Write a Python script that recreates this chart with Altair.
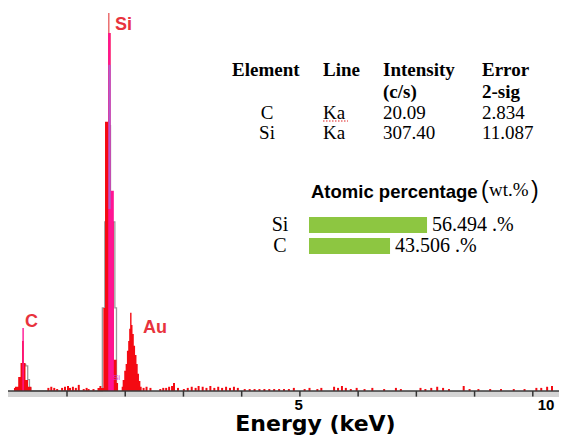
import altair as alt
import pandas as pd

# ---------------- data ----------------
red_e = [0.089, 0.106, 0.162, 0.202, 0.229, 0.258, 0.287, 0.331, 0.388,
         1.524, 1.557, 1.590, 1.624, 1.653, 1.708, 1.747, 1.804, 1.852, 1.877,
         1.939, 1.956, 1.983, 2.007, 2.029, 2.051, 2.068, 2.084, 2.108, 2.125,
         2.147, 2.169, 2.193, 2.214, 2.236, 2.260, 2.282]
red_c = [8, 11, 37, 74, 132, 74, 29, 11, 0,
         8, 13, 8, 219, 710, 944, 446, 82, 21, 0,
         11, 29, 53, 71, 106, 132, 164, 206, 174, 150,
         119, 95, 71, 45, 26, 11, 0]
mag_e = [0.234, 0.258, 1.708, 1.747, 1.804]
mag_c = [166, 0, 944, 528, 0]
gray_e = [0.258, 0.290, 0.325, 0.355, 0.380, 1.607, 1.649, 1.675, 1.747, 1.822, 1.850]
gray_c = [70, 66, 30, 8, 0, 219, 446, 700, 446, 219, 0]
purple_e0 = [1.712]
purple_e1 = [1.750]
purple_lo = [480]
purple_hi = [860]
top_e = [1.718]
top_lo = [944]
top_hi = [997]
noise_e = [0.680, 0.730, 0.781, 0.831, 0.916, 0.966, 1.017, 1.051, 1.101, 1.152, 1.202,
           1.287, 1.337, 1.371, 1.455,
           2.315, 2.366, 2.433, 2.602, 2.653, 2.703, 2.754, 2.804, 2.838, 2.906, 3.007,
           3.074, 3.142, 3.209, 3.260, 3.330, 3.395, 3.462, 3.530, 3.597, 3.664, 3.732,
           3.799, 3.867, 3.934, 4.052, 4.137, 4.221, 4.305, 4.390, 4.474, 4.558, 4.643,
           4.727, 4.811, 4.896, 5.081, 5.165, 5.300, 5.368, 5.587, 5.655, 5.722, 5.789,
           5.874, 5.975, 6.110, 6.244, 6.447, 6.649, 6.734, 7.071, 7.155, 7.256, 7.358,
           7.459, 7.560, 7.813, 7.914, 8.066, 8.268, 8.454, 8.673, 8.858, 9.061, 9.145,
           9.246, 9.330]
noise_c = [8, 11, 8, 5, 8, 11, 13, 8, 11, 8, 16,
           5, 8, 5, 5,
           8, 11, 8, 5, 8, 8, 11, 13, 21, 8, 5,
           8, 11, 8, 13, 11, 8, 13, 8, 11, 8, 11,
           8, 11, 8, 5, 5, 5, 5, 5, 5, 5, 5,
           5, 5, 8, 5, 8, 5, 8, 11, 8, 13, 8,
           5, 8, 5, 8, 5, 8, 5, 8, 5, 8, 11,
           8, 5, 13, 5, 5, 5, 5, 5, 5, 8, 8,
           11, 13]
tick_e = [1, 2, 3, 4, 5, 6, 7, 8, 9]
tick_label_pos = [4.97, 9.22]
tick_label_text = ["5", "10"]
energy_domain = [0.0725, 9.364]
count_domain = [-16, 1010]
band_lo, band_hi = -16, 0
tick_lo = -15

tab_el = ["C", "Si"]
tab_line = ["Ka", "Ka"]
tab_int = ["20.09", "307.40"]
tab_err = ["2.834", "11.087"]

pct_el = ["Si", "C"]
pct_val = [56.494, 43.506]
pct_axis = [15.07, 100]

# ---------------- styling ----------------
W, H = 551, 389
RED = "#f40a12"
MAGENTA = "#ff1493"
PURPLE = "#b25ccc"
GRAYLINE = "#9a9a9a"
BAND = "#d4d4d4"
LABEL_RED = "#e8333d"
GREEN = "#8dc641"
SANS = "Liberation Sans"
SERIF = "Liberation Serif"

xs = alt.Scale(domain=energy_domain, nice=False, zero=False)
ys = alt.Scale(domain=count_domain, nice=False, zero=False)
label_expr = "datum.value < 7 ? '%s' : '%s'" % (tick_label_text[0], tick_label_text[1])
xaxis = alt.Axis(values=tick_label_pos, labelExpr=label_expr, labelFont=SANS,
                 labelFontWeight="bold", labelFontSize=15,
                 labelColor="black", labelPadding=0, ticks=False, tickSize=0,
                 domain=False, grid=False, labelFlush=False, labelOverlap=False,
                 title="Energy (keV)", titleFont="DejaVu Sans", titleFontWeight="bold",
                 titleFontSize=22, titleColor="black", titleBaseline="alphabetic",
                 titleY=33, titleX=307, titleAlign="center")


def X(f):
    return alt.X(f, type="quantitative", scale=xs, axis=xaxis)


def Y(f):
    return alt.Y(f, type="quantitative", scale=ys, axis=None)


band = alt.Chart(pd.DataFrame({"lo": [band_lo], "hi": [band_hi]})).mark_rect(color=BAND).encode(
    x=alt.value(0), x2=alt.value(W), y=Y("hi"), y2="lo:Q")
gray_line = alt.Chart(pd.DataFrame({"E": gray_e, "c": gray_c})).mark_line(
    interpolate="step-after", color=GRAYLINE, strokeWidth=1.3).encode(x=X("E"), y=Y("c"))
red_area = alt.Chart(pd.DataFrame({"E": red_e, "c": red_c})).mark_area(
    interpolate="step-after", color=RED, opacity=1).encode(x=X("E"), y=Y("c"))
noise = alt.Chart(pd.DataFrame({"E": noise_e, "c": noise_c})).mark_bar(
    color=RED, width=2).encode(x=X("E"), y=Y("c"))
mag_area = alt.Chart(pd.DataFrame({"E": mag_e, "c": mag_c})).mark_area(
    interpolate="step-after", color=MAGENTA, opacity=1).encode(x=X("E"), y=Y("c"))
purple = alt.Chart(pd.DataFrame({"e0": purple_e0, "e1": purple_e1, "lo": purple_lo, "hi": purple_hi})).mark_rect(
    color=PURPLE).encode(x=X("e0"), x2="e1:Q", y=Y("lo"), y2="hi:Q")
top = alt.Chart(pd.DataFrame({"E": top_e, "lo": top_lo, "hi": top_hi})).mark_rule(
    color="#e8585a", strokeWidth=1.3).encode(x=X("E"), y=Y("lo"), y2="hi:Q")
baseline = alt.Chart(pd.DataFrame({"z": [band_hi]})).mark_rule(color="#3a3a3a", strokeWidth=1.5).encode(
    x=alt.value(0), x2=alt.value(W), y=Y("z"))
ticks = alt.Chart(pd.DataFrame({"E": tick_e, "a": [band_hi] * len(tick_e), "b": [tick_lo] * len(tick_e)})).mark_rule(
    color="#333333", strokeWidth=1.5).encode(x=X("E"), y=Y("a"), y2="b:Q")


def txt(s, x, y, size, font, weight="normal", color="black", align="left"):
    return alt.Chart(pd.DataFrame({"t": [s]})).mark_text(
        align=align, baseline="middle", font=font, fontSize=size, fontWeight=weight,
        color=color).encode(x=alt.value(x), y=alt.value(y), text="t:N")


ann = [
    txt("Si", 107, 17, 18, SANS, "bold", LABEL_RED),
    txt("C", 17, 314, 18, SANS, "bold", LABEL_RED),
    txt("Au", 135, 320, 18, SANS, "bold", LABEL_RED),
    txt("Si", 105, 370, 8, SANS, "normal", "#cc33cc"),
    txt("Element", 224, 62, 19, SERIF, "bold"),
    txt("Line", 315, 62, 19, SERIF, "bold"),
    txt("Intensity", 375, 62, 19, SERIF, "bold"),
    txt("Error", 474, 62, 19, SERIF, "bold"),
    txt("(c/s)", 375, 84, 19, SERIF, "bold"),
    txt("2-sig", 474, 84, 19, SERIF, "bold"),
    txt("Atomic percentage", 303, 184, 18.5, SANS, "bold"),
    txt("(", 473, 183, 23, SANS, "normal"),
    txt("wt.%", 481, 182, 19, SERIF, "normal"),
    txt(")", 523, 183, 23, SANS, "normal"),
]
row_y = [105, 125]
for i in range(len(tab_el)):
    ann.append(txt(tab_el[i], 259, row_y[i], 19, SERIF, align="center"))
    ann.append(txt(tab_line[i], 315, row_y[i], 19, SERIF))
    ann.append(txt(tab_int[i], 375, row_y[i], 19, SERIF))
    ann.append(txt(tab_err[i], 474, row_y[i], 19, SERIF))

squiggle = alt.Chart(pd.DataFrame({"k": [0]})).mark_rule(
    color="#e02020", strokeWidth=1.2, strokeDash=[1.5, 1.5]).encode(
    x=alt.value(315), x2=alt.value(340), y=alt.value(113))

spectrum = alt.layer(band, gray_line, red_area, noise, mag_area, purple, top, baseline, ticks,
                     squiggle, *ann)

# inset bars (own scales)
bar_df = pd.DataFrame({"el": pct_el, "pct": pct_val, "base": [pct_axis[0]] * len(pct_el)})
bxs = alt.Scale(domain=pct_axis, range=[301, 543], zero=False, nice=False)
bys = alt.Scale(domain=pct_el, range=[209, 246], paddingInner=0.24, paddingOuter=0)
bars = alt.Chart(bar_df).mark_bar(color=GREEN).encode(
    x=alt.X("pct:Q", scale=bxs, axis=None), x2="base:Q",
    y=alt.Y("el:N", scale=bys, axis=None))
vals = alt.Chart(bar_df).transform_calculate(
    lbl="format(datum.pct, '.3f') + ' .%'").mark_text(
    align="left", baseline="middle", dx=5, font=SERIF, fontSize=20, color="black").encode(
    x=alt.X("pct:Q", scale=bxs, axis=None), y=alt.Y("el:N", scale=bys, axis=None), text="lbl:N")
cats = alt.Chart(bar_df).mark_text(
    align="center", baseline="middle", font=SERIF, fontSize=20, color="black").encode(
    x=alt.value(272), y=alt.Y("el:N", scale=bys, axis=None), text="el:N")
inset = alt.layer(bars, vals, cats)

chart = alt.layer(spectrum, inset).resolve_scale(
    x="independent", y="independent").properties(
    width=W, height=H,
    padding={"left": 0, "top": 0, "right": 0, "bottom": 40},
    autosize=alt.AutoSizeParams(type="none"),
    background="white",
).configure_view(stroke=None)

chart.save("out.html", embed_options={"renderer": "svg", "actions": False})
